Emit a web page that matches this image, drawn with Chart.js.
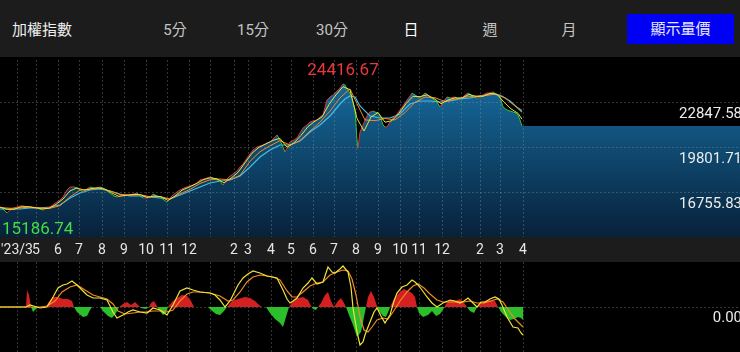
<!DOCTYPE html>
<html>
<head>
<meta charset="utf-8">
<script src="https://cdn.jsdelivr.net/npm/chart.js@4.4.1/dist/chart.umd.min.js"></script>
<style>
html, body { margin: 0; padding: 0; background: #000; width: 740px; height: 352px; overflow: hidden;
  font-family: Roboto, "Noto Sans CJK TC", sans-serif; }
#top { position: absolute; left: 0; top: 0; width: 740px; height: 57px; background: #1c1c1c; }
#top span { position: absolute; top: 19px; font-size: 15px; line-height: 22px; color: #c4c4c4; transform: translateX(-50%); white-space: nowrap; }
#top span.title { left: 12px; transform: none; color: #f0f0f0; }
#top span.on { color: #ffffff; }
#btn { position: absolute; left: 627px; top: 14px; width: 107px; height: 30px; background: #0000f5;
  color: #e8e8ff; font-size: 15px; line-height: 30px; text-align: center; }
#main { position: absolute; left: 0; top: 60px; }
#macd { position: absolute; left: 0; top: 262px; }
</style>
</head>
<body>
<div id="top">
  <span class="title">加權指數</span>
  <span style="left:175px">5分</span>
  <span style="left:253px">15分</span>
  <span style="left:332px">30分</span>
  <span class="on" style="left:411px">日</span>
  <span style="left:490px">週</span>
  <span style="left:569px">月</span>
  <div id="btn">顯示量價</div>
</div>
<canvas id="main" width="740" height="202"></canvas>
<canvas id="macd" width="740" height="90"></canvas>
<script>
// x = trading day index (about one pixel per day)
const monthDays = [17, 36, 58, 79, 102, 124, 146, 167, 189, 211, 234, 248, 271, 291, 313, 334, 356, 378, 400, 419, 442, 461, 480, 500, 523];
const monthLabels = ["'23/3", "5", "6", "7", "8", "9", "10", "11", "12", "", "2", "3", "4", "5", "6", "7", "8", "9", "10", "11", "12", "", "2", "3", "4"];

const priceTicks = [16755.83, 19801.71, 22847.58];
const periodHigh = [343, 24416.67];
const periodLow = [7, 15186.74];

// daily close (sampled)
const closePts = [
  [0,15808],[4,15606],[7,15403],[10,15606],[14,15741],[17,15808],[20,15876],[23,15876],[27,15808],[30,15808],
  [34,15741],[37,15741],[40,15673],[43,15606],[47,15741],[50,15808],[54,16011],[57,16147],[60,16282],[63,16485],
  [67,16959],[70,17162],[74,17162],[77,17094],[80,16959],[83,16824],[87,17027],[90,17162],[94,17094],[97,17094],
  [100,17162],[103,17094],[107,16891],[110,16756],[114,16553],[117,16485],[120,16553],[123,16620],[127,16620],[130,16620],
  [134,16688],[137,16756],[140,16553],[143,16418],[147,16418],[150,16485],[153,16688],[157,16553],[160,16485],[164,16282],
  [167,16147],[170,16418],[173,16620],[177,16824],[180,16959],[184,17094],[187,17162],[190,17230],[193,17297],[197,17433],
  [200,17636],[204,17703],[207,17771],[210,17839],[213,17771],[217,17636],[220,17568],[223,17297],[227,17703],[230,17906],
  [233,18041],[237,18244],[240,18515],[243,18718],[247,19124],[250,19395],[253,19666],[257,19869],[260,19937],[263,20005],
  [267,20140],[270,20208],[273,20411],[277,20682],[280,20344],[283,19869],[285,19531],[288,19937],[290,20208],[294,20344],
  [297,20479],[300,20817],[303,21155],[307,21358],[310,21561],[313,21629],[317,21697],[320,21900],[323,22035],[327,23051],
  [330,23254],[333,23389],[337,23660],[340,23863],[343,24133],[345,24066],[347,23795],[350,23524],[353,22915],[355,22374],
  [357,20344],[358,19802],[360,20885],[363,21358],[365,21697],[368,22103],[370,22238],[373,22306],[375,22238],[378,22171],
  [380,22035],[383,21358],[385,21223],[387,21223],[390,21561],[393,21832],[397,22103],[400,22374],[403,22645],[407,23051],
  [410,23321],[412,23524],[415,23389],[418,23254],[420,23186],[423,23389],[425,23524],[428,23389],[430,23254],[433,23118],
  [437,22915],[440,22577],[443,22915],[447,23254],[450,23186],[455,23254],[458,23118],[462,23186],[465,23389],[468,23524],
  [471,23389],[473,23254],[477,23186],[480,23254],[483,23389],[487,23524],[490,23524],[493,23592],[497,23389],[500,23254],
  [503,22577],[507,22374],[510,22306],[513,22238],[516,22171],[518,22035],[520,21697],[522,21291]
];

const ma5Pts = [
  [0,15800],[7,15650],[14,15650],[21,15820],[28,15830],[35,15760],[42,15680],[49,15720],[56,15980],[63,16350],
  [70,16900],[77,17100],[84,16950],[91,17050],[98,17110],[105,17020],[112,16750],[119,16530],[126,16600],[133,16660],
  [140,16650],[147,16450],[154,16560],[161,16500],[168,16250],[175,16550],[182,16950],[189,17150],[196,17380],[203,17650],
  [210,17780],[217,17720],[224,17450],[231,17750],[238,18150],[245,18800],[252,19450],[259,19850],[266,20080],[273,20320],
  [280,20450],[287,19850],[294,20150],[301,20650],[308,21250],[315,21620],[322,21900],[329,22750],[336,23400],[343,23950],
  [350,23750],[357,21800],[364,20950],[371,21900],[378,22200],[385,21550],[392,21650],[399,22150],[406,22800],[413,23300],
  [420,23280],[427,23400],[434,23150],[441,22800],[448,23050],[455,23200],[462,23180],[469,23430],[476,23300],[483,23300],
  [490,23500],[497,23450],[504,22900],[511,22450],[518,22150],[522,21750]
];

const ma10Pts = [
  [0,15780],[10,15720],[20,15740],[30,15800],[40,15760],[50,15720],[60,15900],[70,16500],[80,16950],[90,17000],
  [100,17080],[110,16900],[120,16650],[130,16600],[140,16640],[150,16500],[160,16520],[170,16350],[180,16700],[190,17000],
  [200,17400],[210,17650],[220,17700],[230,17650],[240,17950],[250,18900],[260,19550],[270,19950],[280,20300],[290,20000],
  [300,20300],[310,20950],[320,21550],[330,22300],[340,23200],[350,23800],[357,22800],[365,21700],[375,21650],[385,21800],
  [395,21700],[405,22200],[415,22900],[425,23250],[435,23200],[445,22950],[455,23100],[465,23250],[475,23300],[485,23350],
  [495,23450],[505,23200],[515,22650],[522,22350]
];

const ma20Pts = [
  [0,15673],[10,15673],[20,15673],[30,15741],[40,15741],[50,15808],[60,15944],[70,16418],[80,16756],[90,16959],
  [100,17027],[110,16891],[120,16688],[130,16553],[140,16553],[150,16485],[160,16418],[170,16350],[180,16620],[190,16891],
  [200,17162],[210,17433],[220,17568],[230,17636],[240,17906],[250,18515],[260,19192],[270,19666],[280,20005],[290,20005],
  [300,20276],[310,20885],[320,21358],[330,21967],[340,22780],[345,23118],[350,23321],[355,23254],[360,22645],[370,21967],
  [380,21832],[390,21832],[400,22103],[410,22780],[420,22983],[430,22983],[440,22915],[450,22983],[460,23118],[470,23186],
  [480,23321],[490,23457],[500,23389],[510,22983],[522,22238]
];

// MACD panel
const difPts = [
  [0,0],[26,0],[30,20],[35,5],[40,-10],[47,0],[53,100],[58,190],[63,220],[67,230],[72,260],[77,220],[82,170],[87,120],
  [93,90],[100,90],[107,70],[113,-50],[117,-110],[123,-80],[128,-50],[133,-30],[140,-50],[147,-60],[153,-10],[160,-30],
  [167,-80],[173,20],[180,160],[187,190],[193,170],[200,150],[210,140],[215,120],[220,70],[225,0],[230,60],[233,120],
  [238,220],[243,290],[248,330],[253,360],[260,340],[267,310],[272,300],[277,290],[283,170],[287,80],[290,40],[293,60],
  [297,90],[303,190],[308,240],[312,290],[317,230],[323,250],[328,400],[332,350],[335,340],[340,380],[343,410],[348,350],
  [351,200],[353,-10],[357,-250],[360,-380],[363,-350],[365,-280],[368,-200],[370,-150],[374,-50],[377,-10],[381,-90],
  [385,-160],[388,-110],[390,-80],[394,60],[397,140],[402,200],[407,220],[412,270],[415,250],[418,220],[422,170],[427,100],
  [432,40],[437,0],[443,40],[450,70],[455,60],[460,40],[464,60],[468,90],[472,50],[477,0],[481,50],[485,50],[490,80],
  [495,100],[499,80],[502,20],[507,-100],[510,-150],[513,-200],[518,-210],[521,-260],[523,-280]
];

const signalPts = [
  [0,0],[30,0],[40,0],[47,10],[55,60],[62,150],[70,200],[77,220],[85,170],[93,120],[100,100],[107,80],[113,30],[118,-40],
  [125,-70],[133,-60],[140,-50],[147,-50],[153,-40],[160,-40],[167,-50],[173,-30],[180,60],[187,130],[193,150],[200,150],
  [210,140],[220,110],[228,60],[233,70],[240,150],[247,250],[253,300],[260,320],[267,310],[273,300],[280,270],[287,160],
  [292,100],[297,100],[303,150],[310,210],[317,240],[323,250],[330,320],[337,350],[343,370],[348,360],[352,280],[356,120],
  [360,-100],[364,-230],[368,-250],[372,-200],[377,-130],[383,-110],[388,-120],[393,-50],[400,60],[407,150],[413,210],
  [418,230],[424,190],[430,130],[437,70],[443,50],[450,50],[457,50],[464,50],[470,60],[477,40],[484,40],[491,60],[497,80],
  [503,50],[509,-40],[515,-120],[523,-200]
];

const oscPts = [
  [0,0],[26,0],[27,170],[29,120],[31,0],[33,-50],[35,-30],[38,0],[46,0],[48,40],[53,100],[58,100],[63,80],[68,80],[72,60],
  [74,0],[77,-50],[83,-100],[87,-90],[90,-30],[92,0],[100,0],[103,-40],[108,-90],[112,-110],[116,-60],[119,0],[123,30],
  [127,50],[131,20],[135,50],[139,10],[141,-10],[146,-20],[149,0],[151,40],[154,60],[157,10],[159,-30],[163,-80],[166,-60],
  [168,0],[172,50],[177,90],[182,120],[187,110],[191,60],[194,0],[208,0],[211,-30],[216,-70],[220,-80],[224,-40],[227,0],
  [232,60],[238,80],[245,100],[250,90],[255,60],[259,20],[262,0],[266,0],[270,-60],[275,-120],[280,-160],[283,-200],
  [286,-100],[289,0],[293,60],[298,90],[303,100],[308,70],[311,10],[313,-20],[316,-30],[318,0],[321,40],[325,120],[328,150],
  [331,60],[334,0],[338,60],[341,90],[344,40],[346,0],[349,-80],[353,-180],[357,-300],[361,-250],[364,-100],[366,0],
  [368,100],[371,160],[374,100],[377,10],[379,-40],[383,-90],[386,-100],[389,-30],[391,20],[395,100],[400,150],[404,180],
  [408,160],[412,140],[415,100],[417,0],[419,-60],[423,-100],[428,-80],[432,-40],[436,-90],[440,-70],[444,-10],[446,30],
  [450,70],[455,60],[460,80],[464,40],[467,0],[470,-40],[474,-60],[477,0],[480,40],[485,60],[490,70],[495,60],[498,0],
  [502,-60],[506,-100],[510,-130],[514,-120],[518,-100],[521,-110],[523,-130]
];

const toXY = (pts) => pts.map((p) => ({ x: p[0], y: p[1] }));
const gridColor = "rgba(150,150,150,0.35)";

// keep the plot area at the canvas edges
function noPadX(s) { s.paddingLeft = 0; s.paddingRight = 0; }
function noPadY(s) { s.paddingTop = 0; s.paddingBottom = 0; s.width = 0; }

function areaFill(chart) {
  var a = chart.chartArea;
  var g = chart.ctx.createLinearGradient(0, a.top, 0, a.bottom);
  g.addColorStop(0, "#1874aa");
  g.addColorStop(1, "#07213a");
  return g;
}

const mainChart = new Chart(document.getElementById("main"), {
  type: "line",
  plugins: [
    {
      beforeDraw: function (chart) {
        var c = chart.ctx;
        c.fillStyle = "#1c1c1c";
        c.fillRect(0, chart.chartArea.bottom, chart.width, chart.height - chart.chartArea.bottom);
      },
      beforeDatasetsDraw: function (chart) {
        // area keeps the last close level to the right edge
        var a = chart.chartArea;
        var last = closePts[closePts.length - 1];
        var x0 = chart.scales.x.getPixelForValue(last[0]);
        var y0 = chart.scales.y.getPixelForValue(last[1]);
        chart.ctx.fillStyle = areaFill(chart);
        chart.ctx.fillRect(x0, y0, a.right - x0, a.bottom - y0);
      },
      afterDraw: function (chart) {
        var c = chart.ctx;
        var xs = chart.scales.x;
        var ys = chart.scales.y;
        c.save();
        c.font = "17px Roboto";
        c.fillStyle = "#e8383b";
        c.textAlign = "center";
        c.textBaseline = "bottom";
        c.fillText(periodHigh[1].toFixed(2), xs.getPixelForValue(periodHigh[0]), ys.getPixelForValue(periodHigh[1]) - 1);
        c.fillStyle = "#45dc45";
        c.textAlign = "left";
        c.textBaseline = "top";
        var t = periodLow[1].toFixed(2);
        var lx = Math.max(2, xs.getPixelForValue(periodLow[0]) - c.measureText(t).width / 2);
        c.fillText(t, lx, ys.getPixelForValue(periodLow[1]) + 5);
        c.restore();
      },
    },
  ],
  data: {
    datasets: [
      {
        label: "收盤",
        data: toXY(closePts),
        segment: {
          borderColor: (ctx) => (ctx.p1.parsed.y >= ctx.p0.parsed.y ? "#e03434" : "#2fc23a"),
        },
        borderWidth: 1,
        pointRadius: 0,
        fill: false,
        order: 3,
      },
      { label: "MA5", data: toXY(ma5Pts), borderColor: "#e8e23a", borderWidth: 1, pointRadius: 0, fill: false, order: 1 },
      { label: "MA10", data: toXY(ma10Pts), borderColor: "#f08a24", borderWidth: 1, pointRadius: 0, fill: false, order: 2 },
      { label: "MA20", data: toXY(ma20Pts), borderColor: "#43bde6", borderWidth: 1.2, pointRadius: 0, fill: false, order: 4 },
      {
        label: "area",
        data: toXY(closePts),
        borderWidth: 0,
        pointRadius: 0,
        fill: "start",
        backgroundColor: (ctx) => (ctx.chart.chartArea ? areaFill(ctx.chart) : "#0d3a5c"),
        order: 10,
      },
    ],
  },
  options: {
    responsive: false,
    animation: false,
    layout: { padding: 0 },
    plugins: { legend: { display: false }, tooltip: { enabled: false } },
    scales: {
      x: {
        type: "linear",
        min: 0,
        max: 740,
        afterBuildTicks: (s) => { s.ticks = monthDays.map((v) => ({ value: v })); },
        afterFit: (s) => { noPadX(s); s.height = 25; },
        ticks: {
          autoSkip: false,
          maxRotation: 0,
          padding: 5,
          color: "#e6e6e6",
          font: { size: 14, family: "Roboto" },
          callback: (v, i) => monthLabels[i],
        },
        grid: { color: gridColor, drawTicks: false, z: 1 },
        border: { display: false, dash: [2, 2] },
      },
      y: {
        position: "right",
        min: 13777,
        max: 25758,
        afterBuildTicks: (s) => { s.ticks = priceTicks.map((v) => ({ value: v })); },
        afterFit: noPadY,
        ticks: {
          mirror: true,
          labelOffset: 11,
          padding: 2,
          z: 2,
          color: "#ececec",
          font: { size: 15, family: "Roboto" },
          callback: (v) => v.toFixed(2),
        },
        grid: { color: gridColor, drawTicks: false, z: 1 },
        border: { display: false, dash: [2, 2] },
      },
    },
  },
});

const macdChart = new Chart(document.getElementById("macd"), {
  type: "line",
  data: {
    datasets: [
      { label: "DIF", data: toXY(difPts), borderColor: "#eee43a", borderWidth: 1.2, pointRadius: 0, fill: false, order: 1 },
      { label: "MACD", data: toXY(signalPts), borderColor: "#f08a24", borderWidth: 1.2, pointRadius: 0, fill: false, order: 2 },
      {
        label: "OSC",
        data: toXY(oscPts),
        borderWidth: 0,
        pointRadius: 0,
        fill: { target: "origin", above: "#d42020", below: "#2cbf2c" },
        order: 5,
      },
    ],
  },
  options: {
    responsive: false,
    animation: false,
    layout: { padding: 0 },
    plugins: { legend: { display: false }, tooltip: { enabled: false } },
    scales: {
      x: {
        type: "linear",
        min: 0,
        max: 740,
        afterBuildTicks: (s) => { s.ticks = monthDays.map((v) => ({ value: v })); },
        afterFit: (s) => { noPadX(s); s.height = 0; },
        ticks: { display: false },
        grid: { color: gridColor, drawTicks: false },
        border: { display: false, dash: [2, 2] },
      },
      y: {
        position: "right",
        min: -450,
        max: 450,
        afterBuildTicks: (s) => { s.ticks = [{ value: 0 }]; },
        afterFit: noPadY,
        ticks: {
          mirror: true,
          labelOffset: 11,
          padding: 2,
          z: 2,
          color: "#ececec",
          font: { size: 15, family: "Roboto" },
          callback: (v) => v.toFixed(2),
        },
        grid: { color: gridColor, drawTicks: false },
        border: { display: false, dash: [2, 2] },
      },
    },
  },
});
</script>
</body>
</html>
